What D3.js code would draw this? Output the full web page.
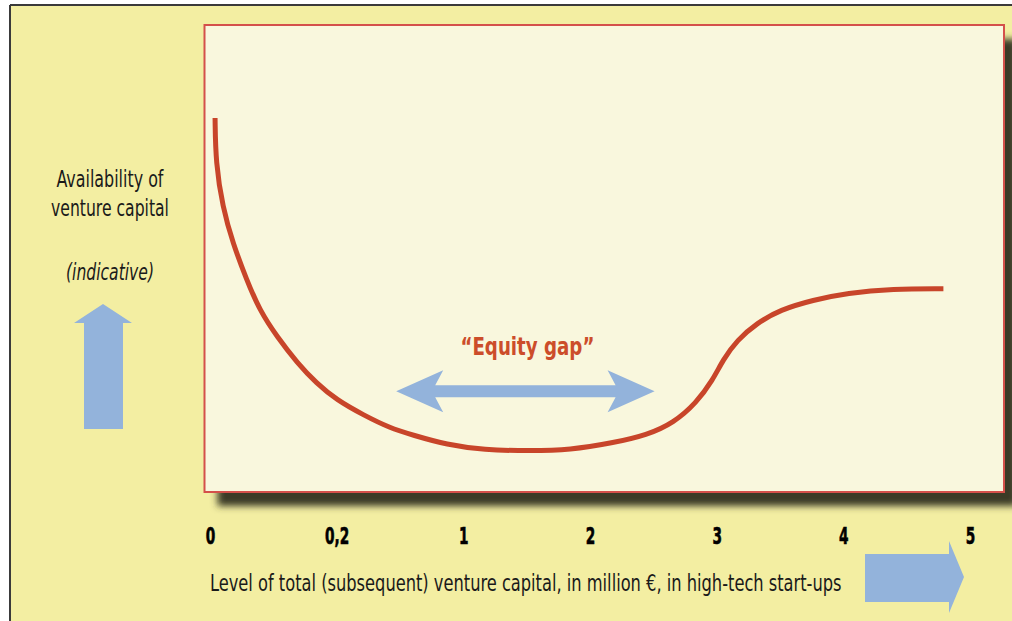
<!DOCTYPE html>
<html>
<head>
<meta charset="utf-8">
<script src="https://cdn.jsdelivr.net/npm/d3@7"></script>
<style>
  body { margin: 0; background: #ffffff; }
  svg { display: block; }
  .narrow { font-family: "Liberation Sans Narrow", "DejaVu Sans Condensed", "Liberation Sans", sans-serif; }
</style>
</head>
<body>
<div id="chart"></div>
<script>
// tick labels of the (non-linear) x axis
let tickLabels = ["0", "0,2", "1", "2", "3", "4", "5"]

// availability curve, x in tick positions (0..6), y indicative 0..100
let curveX = [0.04, 0.045, 0.10, 0.18, 0.29, 0.39, 0.53, 0.69, 0.84, 1.00, 1.21, 1.42, 1.60, 1.87, 2.16, 2.53, 2.84, 3.18, 3.45, 3.66, 3.84, 3.97, 4.05, 4.16, 4.32, 4.50, 4.76, 5.03, 5.39, 5.79]
let curveY = [80.1, 70.5, 61.0, 53.3, 45.4, 39.0, 33.2, 27.6, 23.3, 19.7, 16.5, 13.7, 12.2, 10.1, 9.0, 8.8, 9.0, 10.5, 12.2, 14.8, 19.1, 24.0, 28.3, 32.5, 36.2, 39.0, 41.1, 42.6, 43.5, 43.5]

// "Equity gap" span
let gapRange = [1.47, 3.51]
let gapLevel = 21.6
let gapLabel = "\u201cEquity gap\u201d"

let width = 1012
    height = 621

// plot box
let plotLeft = 204.5, plotRight = 1004, plotTop = 25, plotBottom = 492

// squeeze a text horizontally to a target width, keeping its anchor in place
function squeeze(sel, targetWidth) {
  sel.each(function() {
    let node = d3.select(this)
    let len = this.getComputedTextLength()
    let w = typeof targetWidth === "function" ? targetWidth(node.datum()) : targetWidth
    let ax = +node.attr("x") || 0
    let s = w / len
    node.attr("transform", (node.attr("transform") || "") + " translate(" + ax + ",0) scale(" + s + ",1) translate(" + (-ax) + ",0)")
  })
}

let svg = d3.select("#chart")
  .append("svg")
    .attr("width", width)
    .attr("height", height)

let defs = svg.append("defs")
defs.append("filter")
    .attr("id", "blur")
    .attr("x", "-10%").attr("y", "-10%")
    .attr("width", "120%").attr("height", "130%")
  .append("feGaussianBlur")
    .attr("stdDeviation", 3.5)

// yellow background and outer frame
svg.append("rect")
    .attr("x", 10).attr("y", 5)
    .attr("width", width - 10).attr("height", height - 5)
    .attr("fill", "#f3eea2")
svg.append("line")
    .attr("x1", 10).attr("x2", width).attr("y1", 5).attr("y2", 5)
    .attr("stroke", "#3a3a3a").attr("stroke-width", 2)
svg.append("line")
    .attr("x1", 10).attr("x2", 10).attr("y1", 5).attr("y2", height)
    .attr("stroke", "#3a3a3a").attr("stroke-width", 2)

// scales
let x = d3.scaleLinear()
  .domain([0, tickLabels.length - 1])
  .range([210, 970])

let y = d3.scaleLinear()
  .domain([0, 100])
  .range([plotBottom, plotTop])

// shadow + plot box
svg.append("rect")
    .attr("x", plotLeft + 13).attr("y", plotTop + 14)
    .attr("width", plotRight - plotLeft).attr("height", plotBottom - plotTop)
    .attr("fill", "#3a3a26")
    .attr("filter", "url(#blur)")
svg.append("rect")
    .attr("x", plotLeft).attr("y", plotTop)
    .attr("width", plotRight - plotLeft).attr("height", plotBottom - plotTop)
    .attr("fill", "#f9f7dd")
    .attr("stroke", "#d4504a")
    .attr("stroke-width", 2)

// the curve
let line = d3.line()
  .x(function(d, i) { return x(curveX[i]) })
  .y(function(d) { return y(d) })
  .curve(d3.curveBasis)

svg.append("path")
    .datum(curveY)
    .attr("d", line)
    .attr("fill", "none")
    .attr("stroke", "#c8452a")
    .attr("stroke-width", 5)

// double arrow for the equity gap
let gx0 = x(gapRange[0]), gx1 = x(gapRange[1]), gy = y(gapLevel)
let shaft = 6, head = 21, headLen = 47
svg.append("path")
    .attr("d", "M" + gx0 + "," + gy +
      "L" + (gx0 + headLen) + "," + (gy - head) +
      "L" + (gx0 + headLen - 8) + "," + (gy - shaft) +
      "L" + (gx1 - headLen + 8) + "," + (gy - shaft) +
      "L" + (gx1 - headLen) + "," + (gy - head) +
      "L" + gx1 + "," + gy +
      "L" + (gx1 - headLen) + "," + (gy + head) +
      "L" + (gx1 - headLen + 8) + "," + (gy + shaft) +
      "L" + (gx0 + headLen - 8) + "," + (gy + shaft) +
      "L" + (gx0 + headLen) + "," + (gy + head) + "Z")
    .attr("fill", "#93b3db")

svg.append("text")
    .attr("class", "narrow")
    .attr("x", (gx0 + gx1) / 2 + 2)
    .attr("y", y(29.3))
    .attr("text-anchor", "middle")
    .style("font-size", "25px")
    .style("font-weight", "bold")
    .attr("fill", "#cc4d2a")
    .text(gapLabel)
    .call(squeeze, 134)

// x axis (labels only)
let xAxis = svg.append("g")
    .attr("transform", "translate(0," + 544 + ")")
    .call(d3.axisBottom(x)
      .tickValues(d3.range(tickLabels.length))
      .tickFormat(function(i) { return tickLabels[i] })
      .tickSize(0)
      .tickPadding(0))
xAxis.select(".domain").remove()
xAxis.selectAll("text")
    .attr("class", "narrow")
    .attr("dy", 0)
    .attr("fill", "#000")
    .attr("stroke", "#000")
    .attr("stroke-width", 0.6)
    .style("font-size", "23px")
    .style("font-weight", "900")
    .attr("transform", "scale(0.66,1)")
    .attr("x", 0)

// left axis title
let leftTexts = [
  { t: "Availability of", y: 187, w: 107, italic: false },
  { t: "venture capital", y: 216, w: 118, italic: false },
  { t: "(indicative)", y: 280, w: 88, italic: true }
]
svg.selectAll(".ltitle")
  .data(leftTexts)
  .enter()
  .append("text")
    .attr("class", "narrow ltitle")
    .attr("x", 110)
    .attr("y", function(d) { return d.y })
    .attr("text-anchor", "middle")
    .style("font-size", "23px")
    .style("font-style", function(d) { return d.italic ? "italic" : "normal" })
    .attr("fill", "#1a1a1a")
    .text(function(d) { return d.t })
    .call(squeeze, function(d) { return d.w })

// bottom axis title
svg.append("text")
    .attr("class", "narrow")
    .attr("x", 210)
    .attr("y", 591)
    .style("font-size", "23px")
    .attr("fill", "#1a1a1a")
    .text("Level of total (subsequent) venture capital, in million \u20ac, in high-tech start-ups")
    .call(squeeze, 632)

// up arrow
svg.append("path")
    .attr("d", "M103,304 L132,323 L123,323 L123,429 L84,429 L84,323 L74,323 Z")
    .attr("fill", "#93b3db")

// right arrow
svg.append("path")
    .attr("d", "M865,554 L949,554 L949,541 L964,577 L949,613 L949,602 L865,602 Z")
    .attr("fill", "#93b3db")
</script>
</body>
</html>
